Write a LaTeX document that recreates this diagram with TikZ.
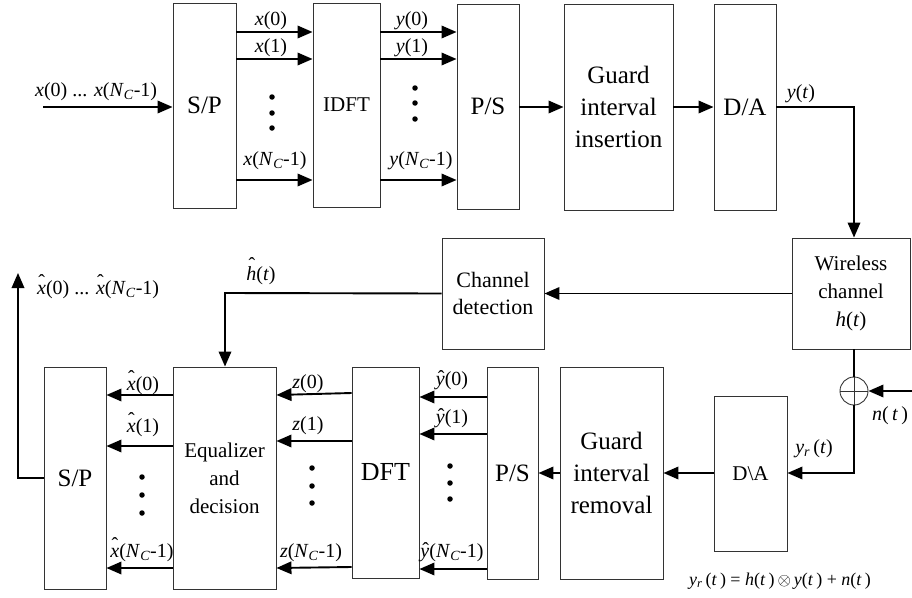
\documentclass[tikz,border=0pt]{standalone}
\usepackage{fontspec}
\setmainfont{Liberation Serif}
\usetikzlibrary{arrows.meta,calc}
\newcommand\hatof[3]{\ooalign{\textit{#3}\cr\hidewidth\kern#2\raisebox{#1}{\char"02C6}\hidewidth\cr}}
\newcommand\NC{\textit{N}\textsubscript{\textit{C}}}
\begin{document}
\begin{tikzpicture}[x=1pt,y=-1pt,
  blk/.style={draw=black!80,line width=0.9pt,inner sep=0pt,align=center,fill=white},
  sig/.style={line width=1.9pt,-{Triangle[length=15pt,width=12.5pt]}},
  wire/.style={line width=1.9pt},
  lab/.style={font=\fontsize{20}{22}\selectfont,inner sep=0pt,anchor=base},
  dotm/.style={fill=black,circle,inner sep=0pt,minimum size=5.5pt}]
\useasboundingbox (0,0) rectangle (912,597);
% ---- top row boxes
\node[blk,minimum width=63pt,minimum height=205pt,font=\fontsize{25}{28}\selectfont] (sp1) at (204.5,105.5) {S/P};
\node[blk,minimum width=67pt,minimum height=204pt,font=\fontsize{21}{24}\selectfont] (idft) at (346.5,105) {IDFT};
\node[blk,minimum width=62pt,minimum height=205pt,font=\fontsize{25}{28}\selectfont] (ps1) at (488,106.5) {P/S};
\node[blk,minimum width=109pt,minimum height=206pt,font=\fontsize{25}{32}\selectfont] (gii) at (618.5,107) {Guard\\interval\\insertion};
\node[blk,minimum width=62pt,minimum height=206pt,font=\fontsize{25}{28}\selectfont] (da) at (745,107) {D/A};
% ---- middle
\node[blk,minimum width=118pt,minimum height=111pt,font=\fontsize{21}{28}\selectfont] (wc) at (851,293.5) {Wireless\\channel\\\textit{h}(\textit{t})};
\node[blk,minimum width=102pt,minimum height=111pt,font=\fontsize{22}{27}\selectfont] (cd) at (493,293.5) {Channel\\detection};
% ---- bottom row boxes
\node[blk,minimum width=73pt,minimum height=155pt,font=\fontsize{21}{24}\selectfont] (da2) at (750.5,473.5) {D\textbackslash A};
\node[blk,minimum width=103pt,minimum height=212pt,font=\fontsize{25}{32}\selectfont] (gir) at (611.5,473) {Guard\\interval\\removal};
\node[blk,minimum width=51pt,minimum height=212pt,font=\fontsize{25}{28}\selectfont] (ps2) at (512.5,473) {P/S};
\node[blk,minimum width=67pt,minimum height=211pt,font=\fontsize{26}{28}\selectfont] (dft) at (385.5,472.5) {DFT};
\node[blk,minimum width=103pt,minimum height=222pt,font=\fontsize{21}{28}\selectfont] (eq) at (224.5,478) {Equalizer\\and\\decision};
\node[blk,minimum width=62pt,minimum height=222pt,font=\fontsize{25}{28}\selectfont] (sp2) at (75,478) {S/P};
% ---- adder
\node[draw=black!80,line width=0.9pt,circle,minimum size=28pt,inner sep=0pt] (add) at (854,391) {};
\draw[line width=0.9pt,black!80] (add.north) -- (add.south) (add.west) -- (add.east);
% ---- row coordinates
\coordinate (t0) at (0,32); \coordinate (t1) at (0,59); \coordinate (t2) at (0,180);
\coordinate (tm) at (0,107);
\coordinate (in) at (43,107);
\coordinate (yt) at (854,107);
\coordinate (hh) at (225,293);
\coordinate (out) at (18,478);
\coordinate (outend) at (18,273);
\coordinate (yr) at (854,473);
\coordinate (nin) at (912,391);
% ---- top connectors
\draw[sig] (in) -- (sp1.west |- in);
\foreach \r in {t0,t1,t2} {
  \draw[sig] (sp1.east |- \r) -- (idft.west |- \r);
  \draw[sig] (idft.east |- \r) -- (ps1.west |- \r);
}
\draw[sig] (ps1.east |- tm) -- (gii.west |- tm);
\draw[sig] (gii.east |- tm) -- (da.west |- tm);
\draw[sig] (da.east |- tm) -- (yt) -- (wc.north -| yt);
% ---- middle connectors
\draw[sig] (wc.west |- cd.east) -- (cd.east);
\draw[sig] (cd.west) -- (hh) -- (eq.north -| hh);
\draw[wire] (wc.south -| add) -- (add.north);
\draw[sig] (nin) -- (add.east);
\draw[sig] (add.south) -- (yr) -- (da2.east |- yr);
\draw[sig] (da2.west |- yr) -- (gir.east |- yr);
\draw[sig] (gir.west |- yr) -- (ps2.east |- yr);
% ---- bottom parallel connectors
\draw[sig] (ps2.west |- 0,397) -- (dft.east |- 0,397);
\draw[sig] (ps2.west |- 0,434) -- (dft.east |- 0,434);
\draw[sig] (ps2.west |- 0,569) -- (dft.east |- 0,569);
\draw[sig] (dft.west |- 0,393) -- (eq.east |- 0,395);
\draw[sig] (dft.west |- 0,441) -- (eq.east |- 0,441);
\draw[sig] (dft.west |- 0,567) -- (eq.east |- 0,568);
\draw[sig] (eq.west |- 0,395) -- (sp2.east |- 0,395);
\draw[sig] (eq.west |- 0,446) -- (sp2.east |- 0,446);
\draw[sig] (eq.west |- 0,568) -- (sp2.east |- 0,568);
\draw[sig] (sp2.west |- out) -- (out) -- (outend);
% ---- dots
\foreach \p/\x/\a/\b/\c in {d1/272/97/113/128, d2/415/88/103/119, d3/142/477/495/513, d4/312/468/486/503, d5/450/466/483/499} {
  \node[dotm] (\p a) at (\x,\a) {};
  \node[dotm] (\p b) at (\x,\b) {};
  \node[dotm] (\p c) at (\x,\c) {};
}
% ---- labels
\node[lab,anchor=base west] (lin) at (35,96) {\textit{x}(0) ... \textit{x}(\NC-1)};
\node[lab] (lx0) at (271,25) {\textit{x}(0)};
\node[lab] (lx1) at (271,52) {\textit{x}(1)};
\node[lab] (lx2) at (275,165) {\textit{x}(\NC-1)};
\node[lab] (ly0) at (412,25) {\textit{y}(0)};
\node[lab] (ly1) at (412,52) {\textit{y}(1)};
\node[lab] (ly2) at (421,165) {\textit{y}(\NC-1)};
\node[lab] (lyt) at (801,98) {\textit{y}(\textit{t})};
\node[lab] (lhh) at (261,280) {\hatof{0.42em}{0.05em}{h}(\textit{t})};
\node[lab,anchor=base west] (lout) at (37,294) {\hatof{0.3em}{0pt}{x}(0) ... \hatof{0.3em}{0pt}{x}(\NC-1)};
\node[lab] (lxh0) at (143,390) {\hatof{0.3em}{0pt}{x}(0)};
\node[lab] (lxh1) at (143,432) {\hatof{0.3em}{0pt}{x}(1)};
\node[lab] (lxh2) at (142,557) {\hatof{0.3em}{0pt}{x}(\NC-1)};
\node[lab] (lz0) at (308,388) {\textit{z}(0)};
\node[lab] (lz1) at (308,430) {\textit{z}(1)};
\node[lab] (lz2) at (311,557) {\textit{z}(\NC-1)};
\node[lab] (lyh0) at (452,385) {\hatof{0.05em}{0.08em}{y}(0)};
\node[lab] (lyh1) at (452,423) {\hatof{0.05em}{0.08em}{y}(1)};
\node[lab] (lyh2) at (452,557) {\hatof{0.05em}{0.08em}{y}(\NC-1)};
\node[lab] (lyr) at (814,453) {\textit{y}\textsubscript{\textit{r}}\,(\textit{t})};
\node[lab] (lnt) at (890,420) {\textit{n}(\,\textit{t}\,)};
\node[lab,font=\fontsize{18}{20}\selectfont] (lform) at (780,585) {\textit{y}\textsubscript{\textit{r}}\,(\textit{t}\,) = \textit{h}(\textit{t}\,)\,$\otimes$\,\textit{y}(\textit{t}\,) + \textit{n}(\textit{t}\,)};
\end{tikzpicture}
\end{document}
